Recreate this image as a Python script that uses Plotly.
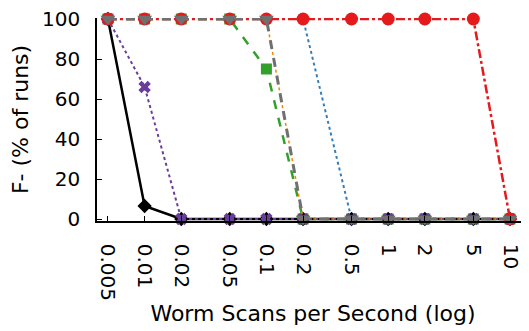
import plotly.graph_objects as go

x_vals = [0.005, 0.01, 0.02, 0.05, 0.1, 0.2, 0.5, 1, 2, 5, 10]
x_labels = ["0.005", "0.01", "0.02", "0.05", "0.1", "0.2", "0.5", "1", "2", "5", "10"]

black_vals  = [100, 6.5, 0, 0, 0, 0, 0, 0, 0, 0, 0]
purple_vals = [100, 66, 0, 0, 0, 0, 0, 0, 0, 0, 0]
green_vals  = [100, 100, 100, 100, 75, 0, 0, 0, 0, 0, 0]
orange_vals = [100, 100, 100, 100, 100, 0, 0, 0, 0, 0, 0]
gray_vals   = [100, 100, 100, 100, 100, 0, 0, 0, 0, 0, 0]
blue_vals   = [100, 100, 100, 100, 100, 100, 0, 0, 0, 0, 0]
red_vals    = [100, 100, 100, 100, 100, 100, 100, 100, 100, 100, 0]

FONT = "DejaVu Sans"

series = [
    # (values, color, dash, width, symbol, msize)
    (blue_vals, "#377eb8", "dot", 2, "circle", 8),
    (green_vals, "#33a02c", "dash", 2.5, "square", 11),
    (black_vals, "#000000", "solid", 2.5, "diamond", 11),
    (purple_vals, "#6a3d9a", "dot", 2, "x", 11),
    (orange_vals, "#ff7f00", "dot", 1.5, "triangle-up", 7),
    (red_vals, "#e41a1c", "dashdot", 2.5, "circle", 13),
    (gray_vals, "#707070", "dash", 3, "triangle-down", 13),
]

fig = go.Figure()
for vals, color, dash, width, sym, ms in series:
    fig.add_trace(go.Scatter(
        x=x_vals, y=vals, mode="lines+markers",
        line=dict(color=color, dash=dash, width=width),
        marker=dict(symbol=sym, size=ms, color=color, line=dict(width=0)),
        cliponaxis=False, showlegend=False,
    ))

# page body has an 8px default margin, so the figure is sized to fit the window
fig.update_layout(
    width=521, height=323,
    margin=dict(l=89, r=0, t=10, b=110),
    plot_bgcolor="white", paper_bgcolor="white",
    font=dict(family=FONT, size=20, color="black"),
)
fig.update_xaxes(
    type="log", range=[-2.391, 1.156], automargin=False,
    tickvals=x_vals, ticktext=x_labels, tickangle=90,
    ticks="inside", ticklen=5, tickcolor="black", tickwidth=1,
    showline=True, linecolor="black", linewidth=1.5,
    showgrid=False, zeroline=False,
    ticklabelstandoff=17, ticklabeloverflow="allow",
    tickfont=dict(family=FONT, size=20),
    title=dict(text="Worm Scans per Second (log)", font=dict(family=FONT, size=22), standoff=6),
)
fig.update_yaxes(
    range=[-1, 100.5], automargin=False,
    tickvals=[0, 20, 40, 60, 80, 100],
    ticks="inside", ticklen=5, tickcolor="black", tickwidth=1,
    showline=True, linecolor="black", linewidth=1.5,
    showgrid=False, zeroline=False,
    ticklabelstandoff=11, ticklabeloverflow="allow",
    tickfont=dict(family=FONT, size=20),
    title=dict(text="F- (% of runs)", font=dict(family=FONT, size=22), standoff=7),
)

fig.write_html("out.html")
